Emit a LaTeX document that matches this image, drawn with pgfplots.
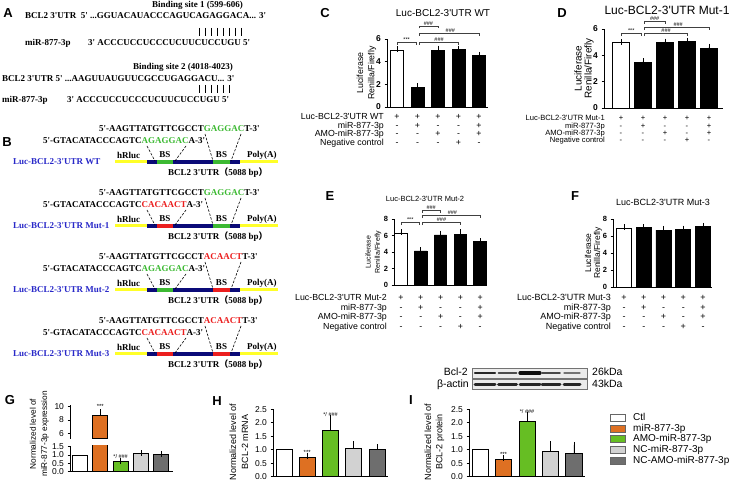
\documentclass[border=0pt]{standalone}
\usepackage{pgfplots}
\pgfplotsset{compat=1.18}
\usepackage{fontspec}
\setmainfont{Liberation Sans}
\newfontfamily\tnr{Liberation Serif}
\newfontfamily\cjk{Noto Sans CJK SC}
\definecolor{gr}{RGB}{60,185,50}
\definecolor{rd}{RGB}{235,30,30}
\definecolor{bl}{RGB}{40,40,200}
\definecolor{nv}{RGB}{10,10,120}
\definecolor{yl}{RGB}{255,255,40}
\definecolor{orng}{RGB}{222,112,34}
\definecolor{grn}{RGB}{102,190,35}
\definecolor{lgr}{RGB}{210,210,210}
\definecolor{dgr}{RGB}{110,110,110}
\newcommand\q{\textquotesingle}
\newcommand\fs[1]{\fontsize{#1}{#1}\selectfont}
\pgfplotsset{
 gp/.style={
  scale only axis, anchor=south west,
  axis x line*=bottom, axis y line*=left, axis line style={-, line width=0.8pt},
  xtick=\empty, ytick pos=left, tick align=outside, major tick length=2.5pt,
  tick style={line width=0.8pt, black},
  ybar, bar width=#1, ymin=0,
  /pgf/number format/assume math mode=true,
  error bars/y dir=plus, error bars/y explicit,
  error bars/error bar style={line width=0.8pt, black},
  error bars/error mark options={mark size=3pt, line width=0.8pt, black},
  every axis plot/.append style={draw=black, line width=0.8pt, bar shift=0pt},
 },
 dec/.style={yticklabel style={/pgf/number format/fixed, /pgf/number format/fixed zerofill, /pgf/number format/precision=1}},
}
\newcommand\brk[5]{\draw[line width=0.5pt, black!75] ([yshift=-2.5pt]axis cs:#1,#3) -- (axis cs:#1,#3) -- (axis cs:#2,#3) -- ([yshift=-2.5pt]axis cs:#2,#3);
 \node[font=\fs{5.5}, anchor=south, inner sep=0.6pt] at (axis cs:#5,#3) {#4};}
\newcommand\srow[4]{\foreach \s [count=\i from 0] in {#4} {\node[inner sep=0pt, anchor=mid] at ({#1+#2*\i}, 498-#3) {\s};}}
\newcommand\construct[6]{%
 \node[anchor=west, text=bl] at (13, 498-#1) {Luc-BCL2-3\q UTR #2};
 \node[anchor=west] at (99, 498-#1+33) {#3};
 \node[anchor=west] at (43, 498-#1+21) {#4};
 \draw[yl, line width=3pt] (115, 498-#1) -- (278, 498-#1);
 \draw[nv, line width=3.5pt] (147, 498-#1) -- (240, 498-#1);
 \draw[#5, line width=3.5pt] (157,498-#1) -- (173,498-#1);
 \draw[#6, line width=3.5pt] (213,498-#1) -- (230,498-#1);
 \node[anchor=west] at (117, 498-#1+7) {hRluc};
 \node at (165,498-#1+7) {BS};
 \node at (221.5, 498-#1+7) {BS};
 \node[anchor=west] at (247, 498-#1+7) {Poly(A)};
 \node[anchor=west] at (168, 498-#1-11) {BCL2 3\q UTR{\cjk （}5088 bp{\cjk ）}};
 \draw[dash pattern=on 2.5pt off 1.5pt, line width=0.6pt] (147, 498-#1+16) -- (155, 498-#1+1);
 \draw[dash pattern=on 2.5pt off 1.5pt, line width=0.6pt] (186, 498-#1+16) -- (175, 498-#1+1);
 \draw[dash pattern=on 2.5pt off 1.5pt, line width=0.6pt] (205, 498-#1+28) -- (213, 498-#1+1);
 \draw[dash pattern=on 2.5pt off 1.5pt, line width=0.6pt] (241, 498-#1+28) -- (231, 498-#1+1);
}
\begin{document}
\begin{tikzpicture}[x=1pt,y=1pt]
\path[use as bounding box] (0,0) rectangle (740,498);
% panel letters
\begin{scope}[font=\bfseries\fs{13}, every node/.style={inner sep=0pt}]
\node at (8,498-13) {A};
\node at (7,498-142) {B};
\node at (325,498-13) {C};
\node at (562,498-13) {D};
\node at (330,498-196) {E};
\node at (575,498-196) {F};
\node at (10,498-400) {G};
\node at (217,498-401) {H};
\node at (411,498-400) {I};
\end{scope}
% ---------- A ----------
\begin{scope}[font=\tnr\bfseries\fs{9}, every node/.style={inner sep=0pt, anchor=west}]
\node at (152,498-5) {Binding site 1 (599-606)};
\node at (25,498-16) {BCL2 3\q UTR\ \ 5\q\ ...GGUACAUACCCAGUCAGAGGACA... 3\q};
\foreach \i in {0,...,7} \draw[line width=0.4pt] (199+6*\i, 498-28) -- ++(0,-8);
\node at (25,498-43) {miR-877-3p};
\node at (88,498-43) {3\q\ ACCCUCCUCCCUCUUCUCCUGU 5\q};
\node at (133,498-67) {Binding site 2 (4018-4023)};
\node at (2,498-79) {BCL2 3\q UTR 5\q\ ...AAGUUAUGUUCGCCUGAGGACU... 3\q};
\foreach \i in {0,...,5} \draw[line width=0.4pt] (199+6*\i, 498-85) -- ++(0,-8);
\node at (2,498-100) {miR-877-3p};
\node at (67,498-100) {3\q\ ACCCUCCUCCCUCUUCUCCUGU 5\q};
\end{scope}
% ---------- B ----------
\begin{scope}[font=\tnr\bfseries\fs{9}, every node/.style={inner sep=0pt}]
\construct{162}{WT}{5\q-AAGTTATGTTCGCCT\textcolor{gr}{GAGGAC}T-3\q}{5\q-GTACATACCCAGTC\textcolor{gr}{AGAGGAC}A-3\q}{gr}{gr}
\construct{226}{Mut-1}{5\q-AAGTTATGTTCGCCT\textcolor{gr}{GAGGAC}T-3\q}{5\q-GTACATACCCAGTC\textcolor{rd}{CACAACT}A-3\q}{rd}{gr}
\construct{290}{Mut-2}{5\q-AAGTTATGTTCGCCT\textcolor{rd}{ACAACT}T-3\q}{5\q-GTACATACCCAGTC\textcolor{gr}{AGAGGAC}A-3\q}{gr}{rd}
\construct{354}{Mut-3}{5\q-AAGTTATGTTCGCCT\textcolor{rd}{ACAACT}T-3\q}{5\q-GTACATACCCAGTC\textcolor{rd}{CACAACT}A-3\q}{rd}{rd}
\end{scope}
% ---------- C ----------
\node[font=\fs{10}, inner sep=0pt] at (443,498-13) {Luc-BCL2-3\q UTR WT};
\node[rotate=90, font=\fs{8.8}, inner sep=0pt] at (360,498-73) {Luciferase};
\node[rotate=90, font=\fs{8.8}, inner sep=0pt] at (372,498-73) {Renilla/Firefly};
\begin{axis}[gp=0.63, at={(387pt,391pt)}, width=101pt, height=68pt, xmin=-0.49, xmax=4.44, ymax=6, ytick={0,2,4,6}, clip=false, yticklabel style={font=\bfseries\fs{8.5}}]
\addplot[fill=white] coordinates {(0,5.0) +- (0,0.1)};
\addplot[fill=black] coordinates {(1,1.75) +- (0,0.08) (2,5.0) +- (0,0.15) (3,5.1) +- (0,0.05) (4,4.55) +- (0,0.05)};
\brk{0}{0.93}{5.7}{***}{0.47}
\brk{1.07}{2}{7.15}{\#\#\#}{1.53}
\brk{1.07}{4}{6.5}{\#\#\#}{2.6}
\brk{1.07}{3}{5.7}{\#\#\#}{2.05}
\end{axis}
\begin{scope}[font=\fs{8.8}, every node/.style={inner sep=0pt}]
\node[anchor=mid east] at (384,498-117.3) {Luc-BCL2-3\q UTR WT};
\node[anchor=mid east] at (384,498-125.8) {miR-877-3p};
\node[anchor=mid east] at (384,498-134.3) {AMO-miR-877-3p};
\node[anchor=mid east] at (384,498-142.8) {Negative control};
\srow{397}{20.5}{117.3}{+,+,+,+,+}
\srow{397}{20.5}{125.8}{-,+,-,-,+}
\srow{397}{20.5}{134.3}{-,-,+,-,+}
\srow{397}{20.5}{142.8}{-,-,-,+,-}
\end{scope}
% ---------- D ----------
\node[font=\fs{12}, inner sep=0pt] at (667,498-10) {Luc-BCL2-3\q UTR Mut-1};
\node[rotate=90, font=\fs{9.9}, inner sep=0pt] at (578,498-68.5) {Luciferase};
\node[rotate=90, font=\fs{9.9}, inner sep=0pt] at (589,498-68.5) {Renilla/Firefly};
\begin{axis}[gp=0.77, at={(604pt,390pt)}, width=119pt, height=79pt, xmin=-0.77, xmax=4.64, ymax=6, ytick={0,2,4,6}, clip=false, yticklabel style={font=\bfseries\fs{8.5}}]
\addplot[fill=white] coordinates {(0,4.95) +- (0,0.05)};
\addplot[fill=black] coordinates {(1,3.45) +- (0,0.1) (2,5.0) +- (0,0.05) (3,5.05) +- (0,0.04) (4,4.55) +- (0,0.1)};
\brk{0}{0.93}{5.65}{***}{0.47}
\brk{1.07}{2}{6.6}{\#\#\#}{1.53}
\brk{1.07}{4}{6.15}{\#\#\#}{2.6}
\brk{1.07}{3}{5.65}{\#\#\#}{2.05}
\end{axis}
\begin{scope}[font=\fs{7.6}, every node/.style={inner sep=0pt}]
\node[anchor=mid east] at (605,498-118.3) {Luc-BCL2-3\q UTR Mut-1};
\node[anchor=mid east] at (605,498-125.5) {miR-877-3p};
\node[anchor=mid east] at (605,498-132.5) {AMO-miR-877-3p};
\node[anchor=mid east] at (605,498-139.5) {Negative control};
\srow{621}{22}{118.3}{+,+,+,+,+}
\srow{621}{22}{125.5}{-,+,-,-,+}
\srow{621}{22}{132.5}{-,-,+,-,+}
\srow{621}{22}{139.5}{-,-,-,+,-}
\end{scope}
% ---------- E ----------
\node[font=\fs{7.5}, inner sep=0pt] at (425,498-199) {Luc-BCL2-3\q UTR Mut-2};
\node[rotate=90, font=\fs{7}, inner sep=0pt] at (368,498-252) {Luciferase};
\node[rotate=90, font=\fs{7}, inner sep=0pt] at (378,498-252) {Renilla/Firefly};
\begin{axis}[gp=0.63, at={(394pt,213pt)}, width=93pt, height=65.7pt, xmin=-0.35, xmax=4.35, ymax=8, ytick={0,2,4,6,8}, clip=false, yticklabel style={font=\bfseries\fs{7.5}}]
\addplot[fill=white] coordinates {(0,6.3) +- (0,0.1)};
\addplot[fill=black] coordinates {(1,4.15) +- (0,0.06) (2,6.1) +- (0,0.15) (3,6.2) +- (0,0.2) (4,5.25) +- (0,0.06)};
\brk{0}{0.93}{7.6}{***}{0.47}
\brk{1.07}{2}{9.1}{\#\#\#}{1.53}
\brk{1.07}{4}{8.45}{\#\#\#}{2.6}
\brk{1.07}{3}{7.6}{\#\#\#}{2.05}
\end{axis}
\begin{scope}[font=\fs{8.8}, every node/.style={inner sep=0pt}]
\node[anchor=mid east] at (387,498-298) {Luc-BCL2-3\q UTR Mut-2};
\node[anchor=mid east] at (387,498-307.5) {miR-877-3p};
\node[anchor=mid east] at (387,498-317) {AMO-miR-877-3p};
\node[anchor=mid east] at (387,498-326.5) {Negative control};
\srow{401}{19.8}{298}{+,+,+,+,+}
\srow{401}{19.8}{307.5}{-,+,-,-,+}
\srow{401}{19.8}{317}{-,-,+,-,+}
\srow{401}{19.8}{326.5}{-,-,-,+,-}
\end{scope}
% ---------- F ----------
\node[font=\fs{9}, inner sep=0pt] at (663,498-202) {Luc-BCL2-3\q UTR Mut-3};
\node[rotate=90, font=\fs{8.5}, inner sep=0pt] at (588,498-253) {Luciferase};
\node[rotate=90, font=\fs{8.5}, inner sep=0pt] at (598,498-253) {Renilla/Firefly};
\begin{axis}[gp=0.76, at={(613pt,211pt)}, width=99pt, height=68pt, xmin=-0.56, xmax=4.46, ymax=8, ytick={0,2,4,6,8}, clip=false, yticklabel style={font=\bfseries\fs{7.5}}]
\addplot[fill=white] coordinates {(0,6.85) +- (0,0.2)};
\addplot[fill=black] coordinates {(1,7.0) +- (0,0.05) (2,6.7) +- (0,0.15) (3,6.75) +- (0,0.12) (4,7.15) +- (0,0.05)};
\end{axis}
\begin{scope}[font=\fs{9}, every node/.style={inner sep=0pt}]
\node[anchor=mid east] at (611,498-298) {Luc-BCL2-3\q UTR Mut-3};
\node[anchor=mid east] at (611,498-307.5) {miR-877-3p};
\node[anchor=mid east] at (611,498-317) {AMO-miR-877-3p};
\node[anchor=mid east] at (611,498-326.5) {Negative control};
\srow{624}{19.75}{298}{+,+,+,+,+}
\srow{624}{19.75}{307.5}{-,+,-,-,+}
\srow{624}{19.75}{317}{-,-,+,-,+}
\srow{624}{19.75}{326.5}{-,-,-,+,-}
\end{scope}
% ---------- G ----------
\node[rotate=90, font=\fs{8.3}, inner sep=0pt] at (33,498-434) {Normalized level of};
\node[rotate=90, font=\fs{8.3}, inner sep=0pt] at (45,498-434) {miR-877-3p expression};
\begin{axis}[gp=0.74, at={(70pt,26.3pt)}, width=103pt, height=25.8pt, xmin=-0.49, xmax=4.58, ymax=1.55, ytick={0,0.5,1,1.5}, dec, clip mode=individual, yticklabel style={font=\fs{8.5}}]
\addplot[fill=white] coordinates {(0,1.0)};
\addplot[fill=orng] coordinates {(1,8.75)};
\addplot[fill=grn] coordinates {(2,0.6) +- (0,0.07)};
\addplot[fill=lgr] coordinates {(3,1.07) +- (0,0.04)};
\addplot[fill=dgr] coordinates {(4,1.02) +- (0,0.05)};
\node[font=\fs{5.5}, anchor=south, inner sep=0.5pt] at (axis cs:2,0.72) {*/ \#\#\#};
\end{axis}
\begin{axis}[gp=0.74, at={(70pt,59.3pt)}, width=103pt, height=33.7pt, xmin=-0.49, xmax=4.58, ymin=5.2, ymax=10.25, ytick={6,8,10}, axis x line=none, clip mode=individual, yticklabel style={font=\fs{8.5}}]
\addplot[fill=orng] coordinates {(1,8.75) +- (0,0.4)};
\node[font=\fs{6}, anchor=south, inner sep=0.5pt] at (axis cs:1,9.6) {***};
\end{axis}
% ---------- H ----------
\node[rotate=90, font=\fs{9}, inner sep=0pt] at (233,498-442) {Normalized level of};
\node[rotate=90, font=\fs{9}, inner sep=0pt] at (245,498-442) {BCL-2 mRNA};
\begin{axis}[gp=0.69, at={(273pt,21.3pt)}, width=115pt, height=67.4pt, xmin=-0.47, xmax=4.47, ymax=2.5, ytick={0,0.5,1,1.5,2,2.5}, dec, clip=false, yticklabel style={font=\fs{8.5}}]
\addplot[fill=white] coordinates {(0,1.0)};
\addplot[fill=orng] coordinates {(1,0.73) +- (0,0.05)};
\addplot[fill=grn] coordinates {(2,1.7) +- (0,0.47)};
\addplot[fill=lgr] coordinates {(3,1.05) +- (0,0.15)};
\addplot[fill=dgr] coordinates {(4,1.02) +- (0,0.07)};
\node[font=\fs{6}, anchor=south, inner sep=0.5pt] at (axis cs:1,0.8) {***};
\node[font=\fs{5.5}, anchor=south, inner sep=0.5pt] at (axis cs:2,2.22) {*/ \#\#\#};
\end{axis}
% ---------- I ----------
\node[rotate=90, font=\fs{9}, inner sep=0pt] at (428,498-442) {Normalized level of};
\node[rotate=90, font=\fs{9}, inner sep=0pt] at (440,498-442) {BCL-2 protein};
\begin{axis}[gp=0.69, at={(469pt,21.3pt)}, width=116pt, height=67.4pt, xmin=-0.47, xmax=4.47, ymax=2.5, ytick={0,0.5,1,1.5,2,2.5}, dec, clip=false, yticklabel style={font=\fs{8.5}}]
\addplot[fill=white] coordinates {(0,1.0)};
\addplot[fill=orng] coordinates {(1,0.65) +- (0,0.05)};
\addplot[fill=grn] coordinates {(2,2.05) +- (0,0.25)};
\addplot[fill=lgr] coordinates {(3,0.95) +- (0,0.25)};
\addplot[fill=dgr] coordinates {(4,0.85) +- (0,0.33)};
\node[font=\fs{6}, anchor=south, inner sep=0.5pt] at (axis cs:1,0.72) {***};
\node[font=\fs{5.5}, anchor=south, inner sep=0.5pt] at (axis cs:2,2.33) {*/ \#\#\#};
\end{axis}
% ---------- blot ----------
\foreach \yy in {368,379.5} {
 \filldraw[fill=black!8, draw=black!55, line width=0.5pt] (472,498-\yy) rectangle (587,498-\yy-10);
}
\foreach \cx/\hw/\th/\dk in {485/10/2.2/85, 507.5/9/1.6/70, 530/10/3.2/95, 551/9/1.8/72, 572/8/1.3/55} {
 \draw[black!\dk, line width=\th pt, line cap=round] (\cx-\hw, 498-373) -- (\cx+\hw, 498-373);
}
\foreach \cx/\hw in {485/10, 507.5/9, 530/10, 551/9, 572/8} {
 \draw[black!85, line width=3pt, line cap=round] (\cx-\hw, 498-384.5) -- (\cx+\hw, 498-384.5);
}
\begin{scope}[font=\fs{10.5}, every node/.style={inner sep=0pt}]
\node[anchor=mid east] at (468,498-373) {Bcl-2};
\node[anchor=mid east] at (469,498-384.5) {β-actin};
\node[anchor=mid west] at (592,498-373) {26kDa};
\node[anchor=mid west] at (592,498-384.5) {43kDa};
\end{scope}
% ---------- legend ----------
\foreach \c/\t [count=\i from 0] in {white/Ctl, orng/miR-877-3p, grn/AMO-miR-877-3p, lgr/NC-miR-877-3p, dgr/NC-AMO-miR-877-3p} {
 \filldraw[fill=\c, draw=black!60, line width=0.5pt] (610, 498-418-10.6*\i-3.5) rectangle (625, 498-418-10.6*\i+3.5);
 \node[anchor=mid west, inner sep=0pt, font=\fs{10}] at (633, 498-418-10.6*\i) {\t};
}
\end{tikzpicture}
\end{document}
